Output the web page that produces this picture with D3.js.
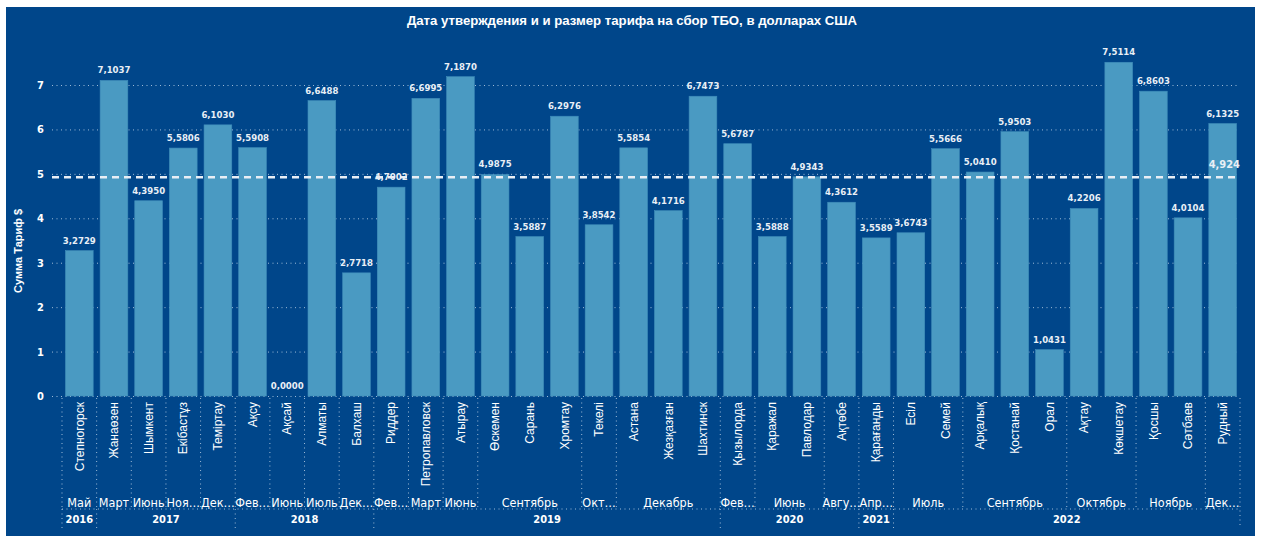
<!DOCTYPE html>
<html><head><meta charset="utf-8">
<script src="https://cdn.jsdelivr.net/npm/d3@7"></script>
<style>
html,body{margin:0;padding:0;background:#fff;}
svg{display:block;}
</style></head><body><svg id="c" width="1263" height="538"></svg>
<script>
const chartTitle = "Дата утверждения и и размер тарифа на сбор ТБО, в долларах США";
const yTitle = "Сумма Тариф $";
const cities = ["Степногорск","Жанаөзен","Шымкент","Екібастұз","Теміртау","Ақсу","Ақсай","Алматы","Балхаш","Риддер","Петропавловск","Атырау","Өскемен","Сарань","Хромтау","Текелі","Астана","Жезқазған","Шахтинск","Қызылорда","Қаражал","Павлодар","Ақтөбе","Қарағанды","Есіл","Семей","Арқалық","Қостанай","Орал","Ақтау","Көкшетау","Қосшы","Сәтбаев","Рудный"];
const values = [3.2729,7.1037,4.3950,5.5806,6.1030,5.5908,0.0000,6.6488,2.7718,4.7002,6.6995,7.1870,4.9875,3.5887,6.2976,3.8542,5.5854,4.1716,6.7473,5.6787,3.5888,4.9343,4.3612,3.5589,3.6743,5.5666,5.0410,5.9503,1.0431,4.2206,7.5114,6.8603,4.0104,6.1325];
const months = ["Май","Март","Июнь","Ноя…","Дек…","Фев…","Июнь","Июль","Дек…","Фев…","Март","Июнь","Сентябрь","Сентябрь","Сентябрь","Окт…","Декабрь","Декабрь","Декабрь","Фев…","Июнь","Июнь","Авгу…","Апр…","Июль","Июль","Сентябрь","Сентябрь","Сентябрь","Октябрь","Октябрь","Ноябрь","Ноябрь","Дек…"];
const years = ["2016","2017","2017","2017","2017","2018","2018","2018","2018","2019","2019","2019","2019","2019","2019","2019","2019","2019","2019","2020","2020","2020","2020","2021","2022","2022","2022","2022","2022","2022","2022","2022","2022","2022"];
const yTicks = [0,1,2,3,4,5,6,7];

const svg = d3.select("#c");
const bg = "#00468a";
const barColor = "#4a9ac2";
const gridColor = "rgba(210,225,240,0.75)";
const narrow = "'Liberation Sans Narrow','DejaVu Sans Condensed','Liberation Sans',sans-serif";
const sans = "'Liberation Sans',Arial,sans-serif";

svg.append("rect").attr("x",6).attr("y",7).attr("width",1249).attr("height",529).attr("fill",bg);

const x = d3.scaleBand().domain(d3.range(cities.length)).range([62,1240]).paddingInner(0.2).paddingOuter(0.1);
const y = d3.scaleLinear().domain([0,7]).range([396,85]);

// title
svg.append("text").attr("x",632).attr("y",25).attr("text-anchor","middle")
  .attr("fill","#fff").attr("font-family",sans).attr("font-weight","bold").attr("font-size",13.2)
  .text(chartTitle);

// y axis title
svg.append("text").attr("transform","translate(22,251) rotate(-90)").attr("text-anchor","middle")
  .attr("fill","#fff").attr("font-family",sans).attr("font-weight","bold").attr("font-size",11)
  .text(yTitle);

// gridlines + tick labels via axis
const yAxis = d3.axisLeft(y).tickValues(yTicks).tickSize(-(1240-52)).tickFormat(d3.format("d"));
const gy = svg.append("g").attr("transform","translate(52,0)").call(yAxis);
gy.select(".domain").remove();
gy.selectAll(".tick line").attr("stroke",gridColor).attr("stroke-dasharray","1,3.5").attr("stroke-width",1);
gy.selectAll(".tick text").attr("x",-8).attr("fill","#fff").attr("font-family",narrow)
  .attr("font-weight","bold").attr("font-size",11);

// bars
svg.append("g").selectAll("rect").data(values).join("rect")
  .attr("x",(d,i)=>x(i)).attr("width",x.bandwidth())
  .attr("y",d=>y(d)).attr("height",d=>y(0)-y(d))
  .attr("fill",barColor).attr("stroke","#3f8dba").attr("stroke-width",0.6);

// value labels
const fmt = d => d.toFixed(4).replace(".",",");
svg.append("g").selectAll("text").data(values).join("text")
  .attr("x",(d,i)=>x(i)+x.bandwidth()/2).attr("y",d=>y(d)-7)
  .attr("text-anchor","middle").attr("fill","#e9eff6")
  .attr("font-family",narrow).attr("font-weight","bold").attr("font-size",9.5)
  .text(d=>fmt(d));

// average line
const avg = d3.mean(values);
svg.append("line").attr("x1",52).attr("x2",1240).attr("y1",y(avg)).attr("y2",y(avg))
  .attr("stroke","#e8eef5").attr("stroke-width",2.5).attr("stroke-dasharray","7,5");
svg.append("text").attr("x",1240).attr("y",y(avg)-9).attr("text-anchor","end")
  .attr("fill","#e9eff6").attr("font-family",narrow).attr("font-weight","bold").attr("font-size",11)
  .text(avg.toFixed(3).replace(".",","));

// category labels
svg.append("g").selectAll("text").data(cities).join("text")
  .attr("transform",(d,i)=>`translate(${x(i)+x.bandwidth()/2},402) rotate(-90)`)
  .attr("dy","0.35em").attr("text-anchor","end").attr("fill","#fff")
  .attr("font-family",sans).attr("font-size",12).text(d=>d);

// groups
function groups(keyFn){
  const out=[];
  cities.forEach((c,i)=>{
    const k = keyFn(i);
    if(out.length && out[out.length-1].key===k) out[out.length-1].end=i;
    else out.push({key:k,start:i,end:i,label:null});
  });
  return out;
}
const step = x.step();
const left = i => x.range()[0] + i*step;
const monthGroups = groups(i=>years[i]+"|"+months[i]);
monthGroups.forEach(g=>g.label=months[g.start]);
const yearGroups = groups(i=>years[i]);
yearGroups.forEach(g=>g.label=years[g.start]);

const sep = svg.append("g").attr("stroke",gridColor).attr("stroke-dasharray","1,3.5").attr("stroke-width",1);
monthGroups.forEach(g=>{
  sep.append("line").attr("x1",left(g.start)).attr("x2",left(g.start)).attr("y1",398).attr("y2",509);
});
sep.append("line").attr("x1",1240).attr("x2",1240).attr("y1",398).attr("y2",528);
yearGroups.forEach(g=>{
  sep.append("line").attr("x1",left(g.start)).attr("x2",left(g.start)).attr("y1",509).attr("y2",528);
});
sep.append("line").attr("x1",62).attr("x2",1240).attr("y1",509).attr("y2",509);

svg.append("g").selectAll("text").data(monthGroups).join("text")
  .attr("x",g=>(left(g.start)+left(g.end+1))/2).attr("y",507)
  .attr("text-anchor","middle").attr("fill","#fff").attr("font-family",narrow)
  .attr("font-size",12.5).text(g=>g.label);

svg.append("g").selectAll("text").data(yearGroups).join("text")
  .attr("x",g=>(left(g.start)+left(g.end+1))/2).attr("y",523)
  .attr("text-anchor","middle").attr("fill","#fff").attr("font-family",narrow)
  .attr("font-weight","bold").attr("font-size",11).text(g=>g.label);
</script></body></html>
